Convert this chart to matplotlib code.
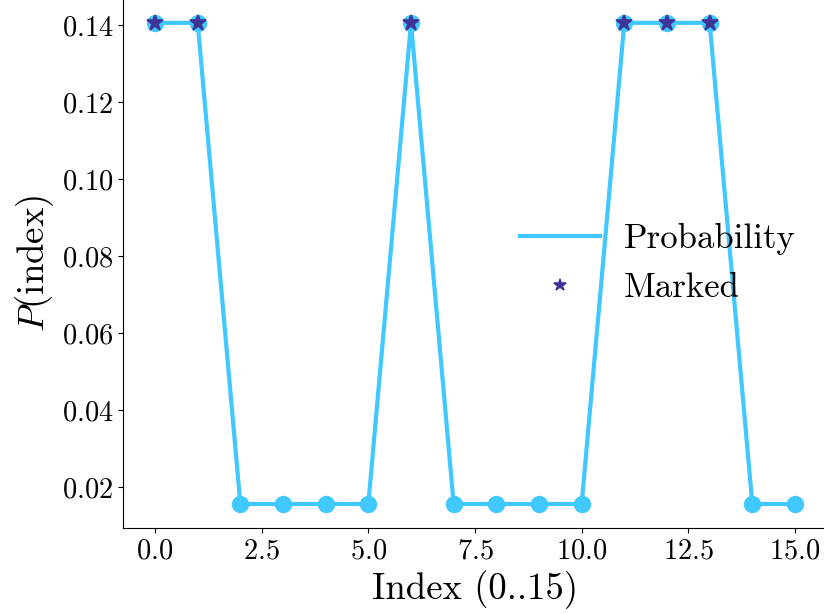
import numpy as np
import matplotlib.pyplot as plt

plt.rcParams['font.family'] = 'serif'
plt.rcParams['font.serif'] = ['cmr10']
plt.rcParams['mathtext.fontset'] = 'cm'
plt.rcParams['axes.formatter.use_mathtext'] = True

index = np.arange(16)
prob = [0.1406, 0.1406, 0.0156, 0.0156, 0.0156, 0.0156, 0.1406, 0.0156,
        0.0156, 0.0156, 0.0156, 0.1406, 0.1406, 0.1406, 0.0156, 0.0156]
marked = [0, 1, 6, 11, 12, 13]

fig, ax = plt.subplots(figsize=(8.24, 6.14), dpi=100)
ax.plot(index, prob, '-', color='#40C8FF', lw=3, label='Probability')
ax.plot(index, prob, 'o', color='#40C8FF', ms=11.5)
ax.plot(marked, [prob[i] for i in marked], '*', color='#3F3599', ms=12,
        mew=1.2, linestyle='none', label='Marked')

ax.set_xlabel('Index (0..15)', fontsize=26.5)
ax.set_ylabel(r'$P(\mathrm{index})$', fontsize=26.5)
ax.tick_params(labelsize=20.5)
ax.set_xticks([0, 2.5, 5, 7.5, 10, 12.5, 15])
ax.spines['top'].set_visible(False)
ax.spines['right'].set_visible(False)
ax.legend(loc='center right', frameon=False, fontsize=25, handlelength=2.3,
          handletextpad=0.7, markerscale=0.75, labelspacing=0.5)

fig.subplots_adjust(left=0.1493, right=1.0036, top=1.002, bottom=0.14)
fig.savefig('out.png')
